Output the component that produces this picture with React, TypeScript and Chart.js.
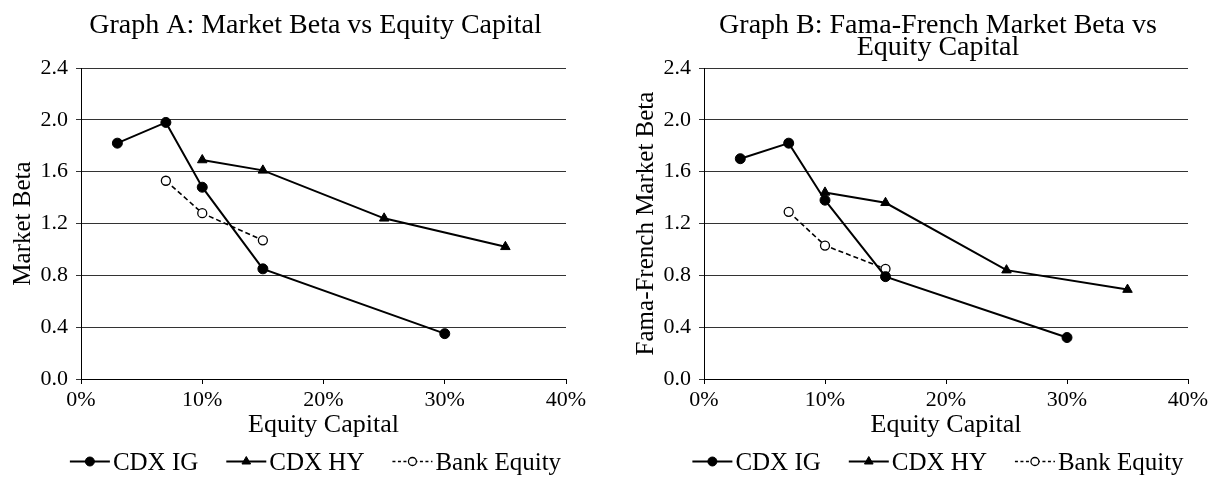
import React, { useEffect, useRef } from 'react';
import { Chart, registerables } from 'chart.js';

Chart.register(...registerables);

const FONT = '"Liberation Serif", "Times New Roman", serif';

const seriesNames = ['CDX IG', 'CDX HY', 'Bank Equity'];
const igCapital = [3, 7, 10, 15, 30];
const hyCapital = [10, 15, 25, 35];
const bankCapital = [7, 10, 15];

const betaA_IG = [1.82, 1.98, 1.48, 0.85, 0.35];
const betaA_HY = [1.69, 1.61, 1.24, 1.02];
const betaA_Bank = [1.53, 1.28, 1.07];

const betaB_IG = [1.70, 1.82, 1.38, 0.79, 0.32];
const betaB_HY = [1.44, 1.36, 0.84, 0.69];
const betaB_Bank = [1.29, 1.03, 0.85];

const xTickValues = [0, 10, 20, 30, 40];
const xTickLabels = ['0%', '10%', '20%', '30%', '40%'];
const yTickValues = [0, 0.4, 0.8, 1.2, 1.6, 2.0, 2.4];
const yTickLabels = ['0.0', '0.4', '0.8', '1.2', '1.6', '2.0', '2.4'];

const titleA = ['Graph A: Market Beta vs Equity Capital'];
const titleB = ['Graph B: Fama-French Market Beta vs', 'Equity Capital'];
const xAxisTitle = 'Equity Capital';
const yTitleA = 'Market Beta';
const yTitleB = 'Fama-French Market Beta';

function drawMarker(ctx: CanvasRenderingContext2D, style: string, x: number, y: number, r: number, fill: string, stroke: string, lw: number) {
  ctx.save();
  ctx.beginPath();
  if (style === 'triangle') {
    let rad = 0;
    ctx.moveTo(x + Math.sin(rad) * r, y - Math.cos(rad) * r);
    rad += (2 * Math.PI) / 3;
    ctx.lineTo(x + Math.sin(rad) * r, y - Math.cos(rad) * r);
    rad += (2 * Math.PI) / 3;
    ctx.lineTo(x + Math.sin(rad) * r, y - Math.cos(rad) * r);
    ctx.closePath();
  } else {
    ctx.arc(x, y, r, 0, Math.PI * 2);
  }
  ctx.fillStyle = fill;
  ctx.fill();
  ctx.lineWidth = lw;
  ctx.strokeStyle = stroke;
  ctx.setLineDash([]);
  ctx.stroke();
  ctx.restore();
}

type PanelProps = {
  left: number;
  width: number;
  title: string[];
  yTitle: string;
  ig: number[];
  hy: number[];
  bank: number[];
};

function Panel({ left, width, title, yTitle, ig, hy, bank }: PanelProps) {
  const ref = useRef<HTMLCanvasElement>(null);
  useEffect(() => {
    if (!ref.current) return;
    const pts = (xs: number[], ys: number[]) => xs.map((x, i) => ({ x, y: ys[i] }));

    const overlay = {
      id: 'overlay',
      afterDraw(chart: any) {
        const { ctx, chartArea } = chart;
        const cx = (chartArea.left + chartArea.right) / 2 - 8;
        ctx.save();
        ctx.fillStyle = '#000';
        ctx.textAlign = 'center';
        ctx.textBaseline = 'alphabetic';
        ctx.font = `28px ${FONT}`;
        title.forEach((line, i) => ctx.fillText(line, cx, 24.5 + i * 22.5));

        ctx.font = `25px ${FONT}`;
        const items = chart.data.datasets.map((ds: any) => ({ ds, w: ctx.measureText(ds.label).width }));
        const sampleW = 40;
        const gap = 3;
        const itemGap = 28;
        const total = items.reduce((s: number, it: any) => s + sampleW + gap + it.w, 0) + itemGap * (items.length - 1);
        let x = cx - total / 2;
        const by = 462;
        const my = by - 8.5;
        ctx.textAlign = 'left';
        items.forEach(({ ds, w }: any) => {
          ctx.beginPath();
          ctx.setLineDash(ds.legendDash || []);
          ctx.lineWidth = ds.borderWidth;
          ctx.strokeStyle = ds.borderColor;
          ctx.moveTo(x, my);
          ctx.lineTo(x + sampleW, my);
          ctx.stroke();
          ctx.setLineDash([]);
          drawMarker(ctx, ds.pointStyle, x + sampleW / 2, my, ds.legendRadius, ds.pointBackgroundColor, ds.pointBorderColor, ds.pointBorderWidth);
          ctx.fillStyle = '#000';
          ctx.fillText(ds.label, x + sampleW + gap, by);
          x += sampleW + gap + w + itemGap;
        });
        ctx.restore();
      },
    };

    const chart = new Chart(ref.current, {
      type: 'line',
      data: {
        datasets: [
          {
            label: seriesNames[0],
            data: pts(igCapital, ig),
            borderColor: '#000',
            backgroundColor: '#000',
            borderWidth: 2,
            pointStyle: 'circle',
            pointRadius: 5,
            pointBackgroundColor: '#000',
            pointBorderColor: '#000',
            pointBorderWidth: 1,
            tension: 0,
            fill: false,
            legendRadius: 4.5,
          } as any,
          {
            label: seriesNames[1],
            data: pts(hyCapital, hy),
            borderColor: '#000',
            backgroundColor: '#000',
            borderWidth: 2,
            pointStyle: 'triangle',
            pointRadius: 5.5,
            pointBackgroundColor: '#000',
            pointBorderColor: '#000',
            pointBorderWidth: 1,
            tension: 0,
            fill: false,
            legendRadius: 5,
          } as any,
          {
            label: seriesNames[2],
            data: pts(bankCapital, bank),
            borderColor: '#000',
            backgroundColor: '#fff',
            borderWidth: 1.6,
            borderDash: [5, 3],
            legendDash: [3, 2.5],
            pointStyle: 'circle',
            pointRadius: 4.5,
            pointBackgroundColor: '#fff',
            pointBorderColor: '#000',
            pointBorderWidth: 1.3,
            tension: 0,
            fill: false,
            legendRadius: 4,
          } as any,
        ],
      },
      options: {
        responsive: false,
        animation: false,
        devicePixelRatio: 1,
        events: [],
        layout: { padding: { top: 60, bottom: 34, left: 0, right: 20 } },
        plugins: {
          legend: { display: false },
          title: { display: false },
          tooltip: { enabled: false },
        },
        scales: {
          x: {
            type: 'linear',
            min: 0,
            max: 40,
            afterBuildTicks: (s: any) => {
              s.ticks = xTickValues.map((v) => ({ value: v }));
            },
            ticks: {
              callback: (_v: any, i: number) => xTickLabels[i],
              font: { size: 22, family: FONT },
              color: '#000',
              padding: 3,
              maxRotation: 0,
              autoSkip: false,
            },
            grid: { drawOnChartArea: false, drawTicks: true, tickLength: 5, color: '#000' },
            border: { display: true, color: '#000', width: 1 },
            title: {
              display: true,
              text: xAxisTitle,
              font: { size: 26, family: FONT },
              color: '#000',
              padding: { top: 0, bottom: 4.2 },
            },
            afterFit: (s: any) => {
              s.height = 66;
              s.paddingLeft = 0;
              s.paddingRight = 0;
            },
          },
          y: {
            type: 'linear',
            min: 0,
            max: 2.4,
            afterBuildTicks: (s: any) => {
              s.ticks = yTickValues.map((v) => ({ value: v }));
            },
            ticks: {
              callback: (_v: any, i: number) => yTickLabels[i],
              font: { size: 22, family: FONT },
              color: '#000',
              padding: 8,
              autoSkip: false,
            },
            grid: { drawOnChartArea: true, drawTicks: true, tickLength: 5, color: '#333', lineWidth: 1 },
            border: { display: true, color: '#000', width: 1 },
            title: {
              display: true,
              text: yTitle,
              font: { size: 25, family: FONT },
              color: '#000',
              padding: { top: 0, bottom: 0 },
            },
            afterFit: (s: any) => {
              s.width = 73;
            },
          },
        },
      } as any,
      plugins: [overlay],
    });
    return () => chart.destroy();
  }, []);

  return (
    <canvas
      ref={ref}
      width={width}
      height={471}
      style={{ position: 'absolute', left, top: 8, display: 'block' }}
    />
  );
}

export default function App() {
  return (
    <div style={{ position: 'absolute', left: 0, top: 0, width: 1213, height: 479, overflow: 'hidden', background: '#fff' }}>
      <Panel left={8} width={578} title={titleA} yTitle={yTitleA} ig={betaA_IG} hy={betaA_HY} bank={betaA_Bank} />
      <Panel left={631} width={577} title={titleB} yTitle={yTitleB} ig={betaB_IG} hy={betaB_HY} bank={betaB_Bank} />
    </div>
  );
}
